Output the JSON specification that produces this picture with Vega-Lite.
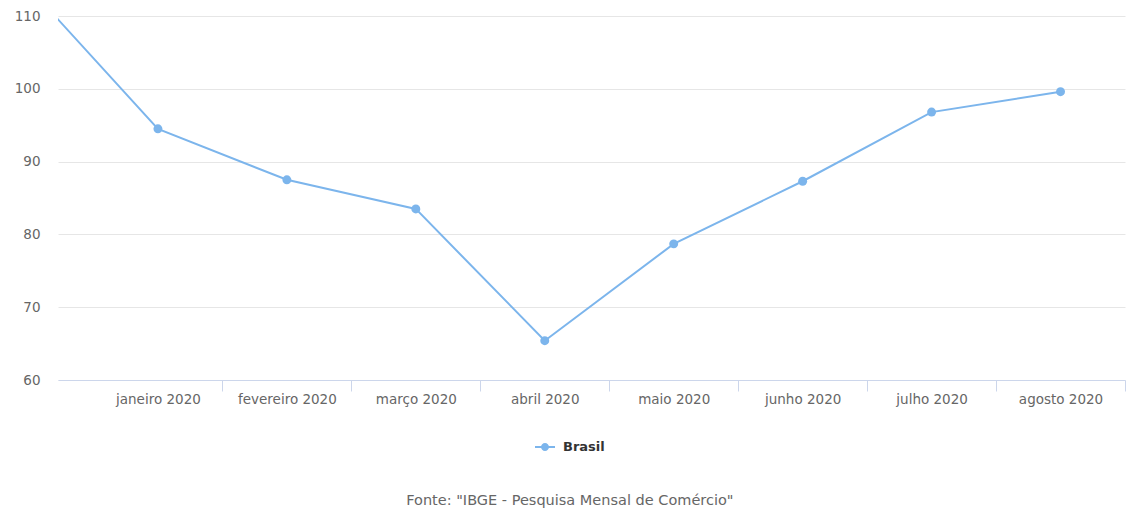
{
  "$schema": "https://vega.github.io/schema/vega-lite/v6.json",
  "width": 1067,
  "height": 364,
  "autosize": {"type": "none"},
  "padding": {"left": 58, "top": 16, "right": 15, "bottom": 137},
  "background": "#ffffff",
  "config": {
    "view": {"stroke": null},
    "font": "DejaVu Sans",
    "axis": {"labelFont": "DejaVu Sans", "labelFontSize": 13.5, "labelColor": "#666666"}
  },
  "title": {
    "text": "Fonte: \"IBGE - Pesquisa Mensal de Comércio\"",
    "orient": "bottom",
    "anchor": "middle",
    "frame": "bounds",
    "font": "DejaVu Sans",
    "fontSize": 14.5,
    "fontWeight": "normal",
    "color": "#666666",
    "offset": 40
  },
  "data": {
    "values": [
      {"i": 0, "mes": "dezembro 2019", "serie": "Brasil", "valor": 113.9},
      {"i": 1, "mes": "janeiro 2020", "serie": "Brasil", "valor": 94.5},
      {"i": 2, "mes": "fevereiro 2020", "serie": "Brasil", "valor": 87.5},
      {"i": 3, "mes": "março 2020", "serie": "Brasil", "valor": 83.5},
      {"i": 4, "mes": "abril 2020", "serie": "Brasil", "valor": 65.4},
      {"i": 5, "mes": "maio 2020", "serie": "Brasil", "valor": 78.7},
      {"i": 6, "mes": "junho 2020", "serie": "Brasil", "valor": 87.3},
      {"i": 7, "mes": "julho 2020", "serie": "Brasil", "valor": 96.8},
      {"i": 8, "mes": "agosto 2020", "serie": "Brasil", "valor": 99.6}
    ]
  },
  "encoding": {
    "y": {
      "field": "valor",
      "type": "quantitative",
      "scale": {"domain": [60, 110], "nice": false, "zero": false},
      "axis": {
        "title": null,
        "values": [60, 70, 80, 90, 100, 110],
        "domain": false,
        "ticks": false,
        "grid": true,
        "gridColor": "#e6e6e6",
        "gridWidth": 1,
        "labelPadding": 18
      }
    },
    "color": {
      "field": "serie",
      "type": "nominal",
      "scale": {"range": ["#7cb5ec"]},
      "legend": {
        "title": null,
        "orient": "none",
        "legendX": 477,
        "legendY": 421,
        "padding": 0,
        "symbolType": "M-1,-0.1L1,-0.1L1,0.1L-1,0.1Z M-0.4,0A0.4,0.4,0,1,1,0.4,0A0.4,0.4,0,1,1,-0.4,0Z",
        "symbolSize": 400,
        "symbolFillColor": "#7cb5ec",
        "symbolStrokeWidth": 0,
        "symbolOpacity": 1,
        "labelFont": "DejaVu Sans",
        "labelFontSize": 13,
        "labelFontWeight": "bold",
        "labelColor": "#333333",
        "labelOffset": 8
      }
    }
  },
  "layer": [
    {
      "mark": {"type": "line", "strokeWidth": 2, "clip": true},
      "encoding": {
        "x": {
          "field": "i",
          "type": "quantitative",
          "scale": {"domain": [0.225, 8.5], "nice": false, "zero": false},
          "axis": {
            "title": null,
            "orient": "bottom",
            "values": [1, 2, 3, 4, 5, 6, 7, 8],
            "labelExpr": "['dezembro 2019','janeiro 2020','fevereiro 2020','março 2020','abril 2020','maio 2020','junho 2020','julho 2020','agosto 2020'][datum.value]",
            "grid": false,
            "ticks": false,
            "tickSize": 0,
            "domain": true,
            "domainColor": "#ccd6eb",
            "domainWidth": 1,
            "labelPadding": 12,
            "labelFlush": false,
            "labelOverlap": false
          }
        }
      }
    },
    {
      "mark": {"type": "point", "filled": true, "size": 80, "opacity": 1, "clip": true},
      "encoding": {
        "x": {
          "field": "i",
          "type": "quantitative",
          "scale": {"domain": [0.225, 8.5], "nice": false, "zero": false},
          "axis": {
            "title": null,
            "orient": "bottom",
            "values": [1.5, 2.5, 3.5, 4.5, 5.5, 6.5, 7.5, 8.5],
            "labels": false,
            "grid": false,
            "domain": false,
            "ticks": true,
            "tickColor": "#ccd6eb",
            "tickSize": 11,
            "tickWidth": 1
          }
        }
      }
    }
  ],
  "resolve": {"axis": {"x": "independent"}}
}
